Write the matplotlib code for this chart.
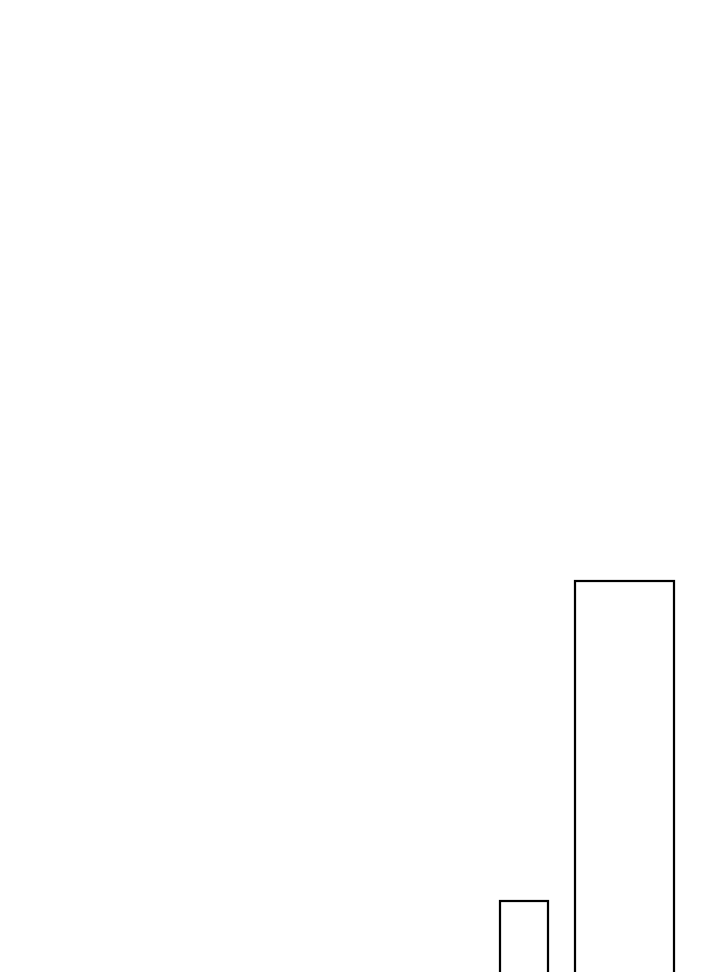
import matplotlib
matplotlib.use('Agg')
import matplotlib.pyplot as plt

# two outlined bars (pixel-like units, y up from bottom edge)
categories = ['A', 'B']
tops = [71.3, 391.0]
centers = [523.8, 624.5]

widths = [48.5, 99.0]
base = -6  # bars run past the bottom edge

fig = plt.figure(figsize=(7.2, 9.72), dpi=100)
ax = fig.add_axes([0, 0, 1, 1])
ax.bar(centers, [t - base for t in tops], width=widths, bottom=base,
       facecolor='white', edgecolor='black', linewidth=1.6)
ax.set_xlim(0, 720)
ax.set_ylim(0, 972)
ax.axis('off')

fig.savefig('out.png', dpi=100, facecolor='white')
